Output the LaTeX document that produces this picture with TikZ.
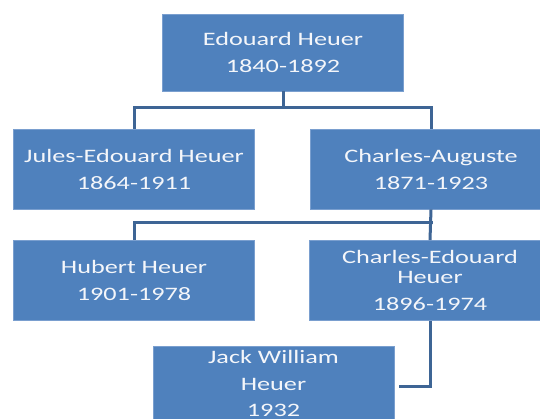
\documentclass[tikz,border=0pt]{standalone}
\usepackage{fontspec}
\setmainfont{Carlito}[FakeStretch=1.38]
\definecolor{boxblue}{HTML}{4F81BD}
\definecolor{boxedge}{HTML}{7A9FCF}
\definecolor{linkblue}{HTML}{3E6595}
\definecolor{txt}{HTML}{F4F6FA}
\begin{document}
\begin{tikzpicture}[x=1pt,y=-1pt,
  person/.style={rectangle, fill=boxblue, draw=boxedge, line width=0.6pt,
    minimum width=241pt, minimum height=80pt, inner sep=0pt,
    text=txt, align=center, font=\fontsize{19}{27}\selectfont},
  label/.style={text=txt, align=center, inner sep=0pt, font=\fontsize{19}{26.5}\selectfont},
  link/.style={draw=linkblue, line width=3pt}]
\useasboundingbox (0,0) rectangle (540,419);
\fill[white] (0,0) rectangle (540,419);
\node[person, minimum height=77pt] (ed) at (283,52.5) {Edouard Heuer\\1840-1892};
\node[person] (jules) at (134,169) {Jules-Edouard Heuer\\1864-1911};
\node[person] (ca) at (431,169) {Charles-Auguste\\1871-1923};
\node[person] (hub) at (134,280.5) {Hubert Heuer\\1901-1978};
\node[person] (ce) at (430,280.5) {Charles-Edouard\\[-7pt]Heuer\\1896-1974};
\node[person] (jack) at (273.5,386) {};
\node[label, anchor=base] (jacktext) at (273.5,416.5) {Jack William\\Heuer\\1932};
\coordinate (j1) at (283,108);
\coordinate (j2) at (433,223);
\coordinate (jackin) at ([xshift=5pt]jack.east);
\draw[link] (ed.south) -- (j1);
\draw[link] (jules.north) |- (j1) -| (ca.north);
\draw[link] (ca.south) -- (ce.north);
\draw[link] (hub.north) |- (j2);
\draw[link] (ce.south) |- (jackin);
\end{tikzpicture}
\end{document}
